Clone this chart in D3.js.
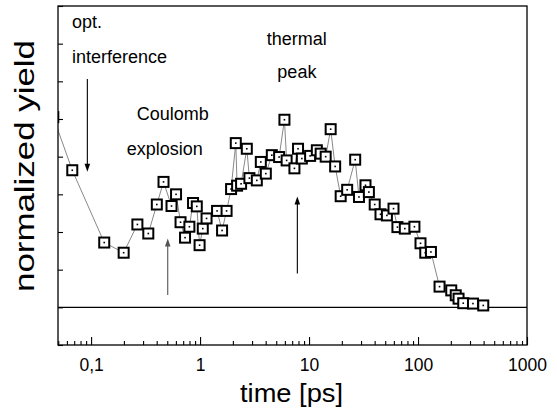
<!DOCTYPE html>
<html>
<head>
<meta charset="utf-8">
<script src="https://cdn.jsdelivr.net/npm/d3@7"></script>
<style>
  html, body { margin: 0; padding: 0; background: #fff; }
  svg { display: block; }
  text { font-family: "Liberation Sans", Arial, sans-serif; fill: #000; }
</style>
</head>
<body>
<svg id="chart" width="557" height="418"></svg>
<script>
// ---- data ----
const times = [0.045,0.0672,0.132,0.199,0.266,0.335,0.401,0.462,0.547,0.602,0.662,0.728,0.798,0.862,0.933,0.99,1.059,1.147,1.432,1.592,1.751,1.926,2.127,2.187,2.379,2.685,2.836,3.317,3.61,4.012,4.554,5.314,5.945,6.228,7.342,7.925,8.588,10.23,11.79,12.78,14.21,15.79,17.36,19.51,22.38,26.51,28.72,32.96,35.41,40.04,45.25,51.82,59.57,64.7,75.65,92.68,105.4,116.5,131.4,157.6,201.8,221.9,235.4,260.1,319.3,396.9];
const yields = [5.05,3.64,1.72,1.45,2.20,1.96,2.73,3.33,2.69,3.00,2.26,1.85,2.14,2.77,2.68,1.65,2.09,2.36,2.56,2.04,2.56,3.14,4.36,3.23,3.28,4.21,3.43,3.37,3.86,3.55,4.04,3.99,4.98,3.90,3.69,4.21,3.95,4.02,4.17,4.08,4.00,4.73,3.74,2.95,3.12,3.92,2.93,3.24,3.06,2.73,2.47,2.44,2.62,2.13,2.09,2.14,1.70,1.45,1.47,0.55,0.45,0.32,0.23,0.11,0.10,0.05];
const xTickValues = [0.1, 1, 10, 100, 1000];
const xTickLabels = ["0,1", "1", "10", "100", "1000"];
const yTickValues = [-1, 0, 1, 2, 3, 4, 5, 6, 7, 8];
const xLabel = "time [ps]";
const yLabel = "normalized yield";

// ---- layout ----
const svg = d3.select("#chart");
const mLeft = 58, mRight = 527, mTop = 6, mBottom = 345;
const x = d3.scaleLog().domain([0.0497, 1000]).range([mLeft, mRight]);
const y = d3.scaleLinear().domain([-1, 8]).range([mBottom, mTop]);

svg.append("defs").append("clipPath").attr("id", "plotclip")
  .append("rect").attr("x", mLeft).attr("y", mTop).attr("width", mRight - mLeft).attr("height", mBottom - mTop);

const data = times.map((t, i) => ({ t, v: yields[i] }));

// baseline at zero
svg.append("line")
  .attr("x1", mLeft).attr("x2", mRight)
  .attr("y1", y(0)).attr("y2", y(0))
  .attr("stroke", "#000").attr("stroke-width", 1.3);

const plot = svg.append("g").attr("clip-path", "url(#plotclip)");

// connecting line
plot.append("path")
  .datum(data)
  .attr("fill", "none")
  .attr("stroke", "#555")
  .attr("stroke-width", 0.7)
  .attr("d", d3.line().x(d => x(d.t)).y(d => y(d.v)));

// markers
const m = plot.selectAll("g.pt").data(data).join("g").attr("class", "pt")
  .attr("transform", d => `translate(${x(d.t)},${y(d.v)})`);
m.append("rect").attr("x", -5).attr("y", -5).attr("width", 10).attr("height", 10)
  .attr("fill", "#fff").attr("stroke", "#000").attr("stroke-width", 2);
m.append("rect").attr("x", -0.8).attr("y", -0.8).attr("width", 1.6).attr("height", 1.6).attr("fill", "#000");

// frame
svg.append("rect").attr("x", mLeft).attr("y", mTop).attr("width", mRight - mLeft).attr("height", mBottom - mTop)
  .attr("fill", "none").attr("stroke", "#000").attr("stroke-width", 1.3);

// x axis (ticks inside)
const minor = [];
for (let e = -2; e < 3; e++) for (let k = 2; k <= 9; k++) {
  const val = k * Math.pow(10, e);
  if (val > 0.0497 && val < 1000) minor.push(val);
}
const xAxisMinor = d3.axisBottom(x).tickValues(minor).tickSizeInner(-4).tickSizeOuter(0).tickFormat("");
const xAxisMajor = d3.axisBottom(x).tickValues(xTickValues).tickSizeInner(-8).tickSizeOuter(0)
  .tickPadding(14).tickFormat((d, i) => xTickLabels[i]);
const gxm = svg.append("g").attr("transform", `translate(0,${mBottom})`).call(xAxisMinor);
const gx = svg.append("g").attr("transform", `translate(0,${mBottom})`).call(xAxisMajor);
[gxm, gx].forEach(g => {
  g.select(".domain").remove();
  g.selectAll(".tick line").attr("stroke", "#000").attr("stroke-width", 1.1);
});
gx.selectAll(".tick text")
  .attr("font-size", 17.5)
  .attr("font-family", "'Liberation Sans', Arial, sans-serif")
  .attr("fill", "#000");

// y axis (ticks inside, no labels)
const gy = svg.append("g").attr("transform", `translate(${mLeft},0)`)
  .call(d3.axisLeft(y).tickValues(yTickValues).tickSizeInner(-5).tickSizeOuter(0).tickFormat(""));
gy.select(".domain").remove();
gy.selectAll(".tick line").attr("stroke", "#000").attr("stroke-width", 1.1);

// axis titles
svg.append("text").attr("x", 240).attr("y", 402)
  .attr("font-size", 26).text(xLabel)
  .attr("textLength", 103).attr("lengthAdjust", "spacingAndGlyphs");
svg.append("text")
  .attr("transform", `translate(34,${166}) rotate(-90)`)
  .attr("text-anchor", "middle")
  .attr("font-size", 27).text(yLabel)
  .attr("textLength", 252).attr("lengthAdjust", "spacingAndGlyphs");

// annotations
const ann = svg.append("g").attr("font-size", 18);
ann.append("text").attr("x", x(0.0669)).attr("y", y(7.41)).text("opt.");
ann.append("text").attr("x", x(0.0669)).attr("y", y(6.50)).text("interference");
ann.append("text").attr("x", x(0.2625)).attr("y", y(4.97)).text("Coulomb");
ann.append("text").attr("x", x(0.2126)).attr("y", y(4.04)).text("explosion");
ann.append("text").attr("x", x(4.09)).attr("y", y(6.96)).text("thermal");
ann.append("text").attr("x", x(5.12)).attr("y", y(6.08)).text("peak");

function arrow(t, yFrom, yTo, color) {
  const px = x(t), y1 = y(yFrom), y2 = y(yTo);
  const dir = y2 > y1 ? 1 : -1;
  svg.append("line").attr("x1", px).attr("x2", px).attr("y1", y1).attr("y2", y2 - dir * 6)
    .attr("stroke", color).attr("stroke-width", 1.1);
  svg.append("path")
    .attr("d", `M${px},${y2} L${px - 2.8},${y2 - dir * 8} L${px + 2.8},${y2 - dir * 8} Z`)
    .attr("fill", color);
}
arrow(0.0924, 6.06, 3.60, "#000");
arrow(0.505, 0.33, 1.83, "#555");
arrow(7.81, 0.90, 2.94, "#000");
</script>
</body>
</html>
